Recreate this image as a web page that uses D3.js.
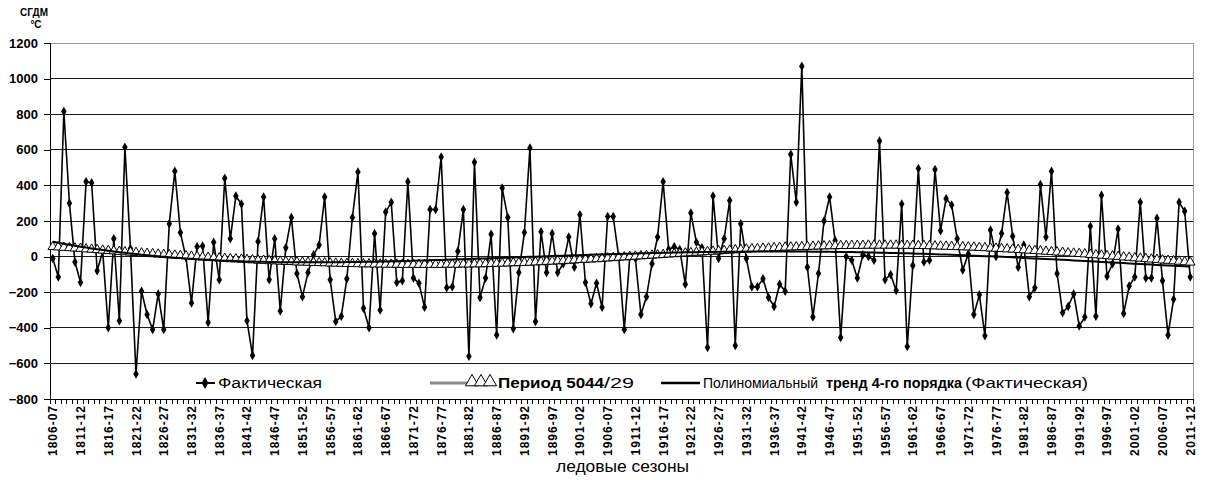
<!DOCTYPE html>
<html><head><meta charset="utf-8">
<script src="https://cdn.jsdelivr.net/npm/d3@7"></script>
<style>
body{margin:0;background:#fff;}
svg{display:block;font-family:"Liberation Sans",Arial,sans-serif;}
</style></head><body>
<svg id="chart" width="1205" height="480"></svg>
<script>
// Ice seasons 1806-07 … 2011-12
const firstYear = 1806;
const seasonCount = 206;
const seasons = d3.range(seasonCount).map(i => {
  const y = firstYear + i;
  return y + "-" + String((y + 1) % 100).padStart(2, "0");
});

// Sum of degree-days of frost (СГДМ), °C, actual values per season
const actual = [
  -10,-115,815,300,-30,-145,420,415,-80,30,
  -400,100,-360,615,45,-660,-195,-325,-410,-210,
  -410,185,480,135,-5,-260,55,60,-370,80,
  -130,440,100,340,295,-360,-555,85,335,-130,
  100,-305,50,220,-95,-225,-90,10,65,335,
  -130,-365,-335,-125,220,475,-290,-400,130,-300,
  250,305,-145,-135,420,-120,-150,-285,265,265,
  560,-175,-170,30,265,-560,530,-230,-120,125,
  -440,385,220,-405,-90,135,610,-365,140,-90,
  130,-90,-40,110,-60,235,-145,-265,-150,-285,
  225,225,0,-410,0,-10,-325,-225,-40,110,
  420,40,55,40,-155,245,80,50,-510,340,
  -10,100,315,-500,185,-10,-170,-170,-125,-230,
  -280,-155,-195,575,305,1070,-60,-340,-95,200,
  335,90,-455,0,-20,-120,10,0,-20,650,
  -130,-100,-190,295,-505,-50,495,-30,-20,490,
  145,325,290,100,-75,15,-325,-215,-445,150,
  0,130,360,115,-60,65,-225,-175,405,110,
  480,-95,-315,-280,-210,-390,-340,170,-335,345,
  -110,-40,155,-320,-165,-115,305,-120,-120,215,
  -135,-440,-240,305,255,-115
];

// Series «Период 5044/29», per season
const cycle = [
  55,53,51,49,47,45,42,40,38,35,
  33,31,28,26,24,22,19,17,15,13,
  11,9,7,5,3,1,-1,-3,-5,-7,
  -9,-11,-13,-14,-16,-18,-19,-21,-22,-24,
  -25,-27,-28,-29,-31,-32,-33,-34,-35,-36,
  -37,-38,-39,-40,-40,-41,-42,-42,-43,-43,
  -44,-44,-44,-45,-45,-45,-45,-45,-45,-45,
  -45,-44,-44,-44,-43,-43,-42,-42,-41,-40,
  -39,-38,-37,-36,-35,-34,-33,-31,-30,-28,
  -27,-25,-24,-22,-20,-18,-16,-15,-13,-11,
  -9,-7,-5,-3,-1,1,3,5,7,9,
  11,13,15,17,19,21,23,25,27,29,
  31,33,35,37,39,41,43,44,46,47,
  49,50,52,53,54,55,56,57,58,59,
  60,60,61,61,62,62,62,63,63,63,
  63,63,63,62,62,62,61,61,60,59,
  58,57,56,55,54,53,52,50,49,47,
  46,44,42,41,39,37,35,33,31,29,
  27,25,23,20,18,16,14,11,9,7,
  4,2,0,-3,-5,-8,-10,-12,-15,-17,
  -20,-22,-25,-27,-30,-32
];

const yTicks = [-800,-600,-400,-200,0,200,400,600,800,1000,1200];
const labelStep = 5;

const svg = d3.select("#chart");
const plot = {left: 50, right: 1193, top: 43, bottom: 399};

const x = d3.scaleBand().domain(seasons).range([plot.left, plot.right]);
const cx = s => x(s) + x.bandwidth() / 2;
const y = d3.scaleLinear().domain([-800, 1200]).range([plot.bottom, plot.top]);

// horizontal gridlines
svg.append("g").selectAll("line").data(yTicks.filter(v => v > -800 && v < 1200)).join("line")
  .attr("x1", plot.left).attr("x2", plot.right)
  .attr("y1", d => y(d)).attr("y2", d => y(d))
  .attr("stroke", "#1a1a1a").attr("stroke-width", 1).attr("shape-rendering", "crispEdges");

// plot frame (top & right)
svg.append("path")
  .attr("d", `M${plot.left},${y(1200)}H${plot.right}V${plot.bottom}`)
  .attr("fill", "none").attr("stroke", "#9a9a9a").attr("stroke-width", 1).attr("shape-rendering", "crispEdges");

// y axis
const yAxis = d3.axisLeft(y).tickValues(yTicks).tickSize(6).tickPadding(6).tickFormat(d3.format("d"));
const gy = svg.append("g").attr("transform", `translate(${plot.left},0)`).call(yAxis);
gy.select(".domain").attr("stroke", "#000").attr("shape-rendering", "crispEdges");
gy.selectAll(".tick line").attr("stroke", "#000").attr("shape-rendering", "crispEdges");
gy.selectAll(".tick text").attr("font-size", 13).attr("font-weight", "bold")
  .attr("font-family", "'Liberation Sans', Arial, sans-serif").attr("fill", "#000");

// x axis: baseline, a tick at every category boundary, labels every 5 seasons
svg.append("line").attr("x1", plot.left).attr("x2", plot.right)
  .attr("y1", plot.bottom).attr("y2", plot.bottom).attr("stroke", "#000").attr("shape-rendering", "crispEdges");
svg.append("g").selectAll("line").data(seasons.concat([null])).join("line")
  .attr("x1", d => d ? x(d) : plot.right).attr("x2", d => d ? x(d) : plot.right)
  .attr("y1", plot.bottom).attr("y2", plot.bottom + 5)
  .attr("stroke", "#000").attr("shape-rendering", "crispEdges");
svg.append("g").selectAll("text").data(seasons.filter((d, i) => i % labelStep === 0)).join("text")
  .attr("transform", d => `translate(${cx(d) + 4.5},${plot.bottom + 6}) rotate(-90)`)
  .attr("text-anchor", "end").attr("font-size", 12).attr("font-weight", "bold")
  .attr("letter-spacing", 1).text(d => d);

// axis titles
svg.append("text").attr("x", 34).attr("y", 16).attr("text-anchor", "middle")
  .attr("font-size", 10).attr("font-weight", "bold").text("СГДМ");
svg.append("text").attr("x", 36).attr("y", 28).attr("text-anchor", "middle")
  .attr("font-size", 10).attr("font-weight", "bold").text("°С");
svg.append("text").attr("x", 556).attr("y", 472).attr("font-size", 16)
  .attr("textLength", 133).attr("lengthAdjust", "spacingAndGlyphs").text("ледовые сезоны");

// 4th-order polynomial least-squares trend of the actual series
function polyFit(ys, deg) {
  const n = ys.length, c = (n - 1) / 2;
  const ts = ys.map((_, i) => (i - c) / c);
  const m = deg + 1;
  const A = d3.range(m).map(() => new Array(m + 1).fill(0));
  ts.forEach((t, k) => {
    for (let r = 0; r < m; r++) {
      for (let q = 0; q < m; q++) A[r][q] += Math.pow(t, r + q);
      A[r][m] += ys[k] * Math.pow(t, r);
    }
  });
  for (let p = 0; p < m; p++) {
    let best = p;
    for (let r = p + 1; r < m; r++) if (Math.abs(A[r][p]) > Math.abs(A[best][p])) best = r;
    [A[p], A[best]] = [A[best], A[p]];
    for (let r = 0; r < m; r++) {
      if (r === p) continue;
      const f = A[r][p] / A[p][p];
      for (let q = p; q <= m; q++) A[r][q] -= f * A[p][q];
    }
  }
  const coef = A.map((row, r) => row[m] / row[r]);
  return ts.map(t => coef.reduce((s, a, r) => s + a * Math.pow(t, r), 0));
}
const trend = polyFit(actual, 4);

// actual series: line with diamond markers
const line = d3.line().x((d, i) => cx(seasons[i])).y(d => y(d));
svg.append("path").datum(actual).attr("d", line)
  .attr("fill", "none").attr("stroke", "#000").attr("stroke-width", 1.6).attr("stroke-linejoin", "round");
const diamond = d3.symbol().type(d3.symbolDiamond).size(26);
svg.append("g").selectAll("path").data(actual).join("path")
  .attr("transform", (d, i) => `translate(${cx(seasons[i])},${y(d)})`)
  .attr("d", diamond).attr("fill", "#000");

// «Период» series: grey line with open triangles
svg.append("path").datum(cycle).attr("d", line)
  .attr("fill", "none").attr("stroke", "#8c8c8c").attr("stroke-width", 2.5);
const tri = d3.symbol().type(d3.symbolTriangle).size(40);
svg.append("g").selectAll("path").data(cycle).join("path")
  .attr("transform", (d, i) => `translate(${cx(seasons[i])},${y(d)})`)
  .attr("d", tri).attr("fill", "#fff").attr("stroke", "#000").attr("stroke-width", 1);

// trend line
svg.append("path").datum(trend).attr("d", line)
  .attr("fill", "none").attr("stroke", "#000").attr("stroke-width", 2);

// legend
const lg = svg.append("g").attr("font-size", 14);
const ly = 383;
lg.append("line").attr("x1", 196).attr("x2", 215).attr("y1", ly).attr("y2", ly).attr("stroke", "#000").attr("stroke-width", 2);
lg.append("path").attr("transform", `translate(205,${ly})`).attr("d", d3.symbol().type(d3.symbolDiamond).size(40)).attr("fill", "#000");
lg.append("text").attr("x", 218).attr("y", ly + 5)
  .attr("textLength", 104).attr("lengthAdjust", "spacingAndGlyphs").text("Фактическая");

lg.append("line").attr("x1", 430).attr("x2", 492).attr("y1", ly).attr("y2", ly).attr("stroke", "#8c8c8c").attr("stroke-width", 3);
[472, 481, 490].forEach(px => lg.append("path").attr("transform", `translate(${px},${ly - 1})`)
  .attr("d", d3.symbol().type(d3.symbolTriangle).size(75)).attr("fill", "#fff").attr("stroke", "#000").attr("stroke-width", 1));
const t2 = lg.append("text").attr("x", 498).attr("y", ly + 5).attr("font-size", 15);
t2.append("tspan").attr("font-weight", "bold").attr("textLength", 106).attr("lengthAdjust", "spacingAndGlyphs").text("Период 5044");
t2.append("tspan").attr("textLength", 30).attr("lengthAdjust", "spacingAndGlyphs").text("/29");

lg.append("line").attr("x1", 661).attr("x2", 700).attr("y1", ly).attr("y2", ly).attr("stroke", "#000").attr("stroke-width", 2.5);
lg.append("text").attr("x", 703).attr("y", ly + 5)
  .attr("textLength", 115).attr("lengthAdjust", "spacingAndGlyphs").text("Полиномиальный");
lg.append("text").attr("x", 826).attr("y", ly + 5).attr("font-weight", "bold")
  .attr("textLength", 136).attr("lengthAdjust", "spacingAndGlyphs").text("тренд 4-го порядка");
lg.append("text").attr("x", 965).attr("y", ly + 5)
  .attr("textLength", 123).attr("lengthAdjust", "spacingAndGlyphs").text("(Фактическая)");
</script>
</body></html>
